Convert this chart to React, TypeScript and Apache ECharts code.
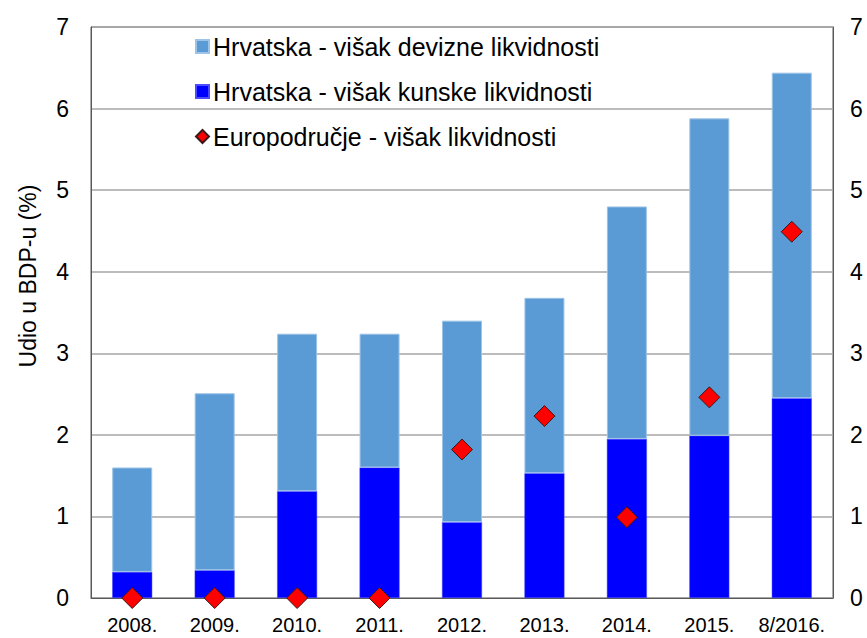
import React, { useEffect, useRef } from "react";
import * as echarts from "echarts";

const categories = ["2008.", "2009.", "2010.", "2011.", "2012.", "2013.", "2014.", "2015.", "8/2016."];
const kunskeLikvidnosti = [0.32, 0.34, 1.31, 1.6, 0.93, 1.53, 1.95, 1.99, 2.45];
const devizneLikvidnosti = [1.28, 2.17, 1.93, 1.64, 2.47, 2.15, 2.85, 3.89, 3.99];
const europodrucje = [0, 0, 0, 0, 1.82, 2.23, 0.99, 2.46, 4.49];
const yTicks = [0, 1, 2, 3, 4, 5, 6, 7];

const FONT = "'Liberation Sans', Arial, sans-serif";

export default function App() {
  const ref = useRef<HTMLDivElement>(null);
  useEffect(() => {
    if (!ref.current) return;
    const chart = echarts.init(ref.current, undefined, { renderer: "svg" });
    const yMin = yTicks[0];
    const yMax = yTicks[yTicks.length - 1];
    chart.setOption({
      animation: false,
      backgroundColor: "#ffffff",
      textStyle: { fontFamily: FONT },
      grid: {
        left: 91,
        right: 34,
        top: 27,
        bottom: 40,
        show: true,
        borderColor: "#595959",
        borderWidth: 1,
        backgroundColor: "transparent",
      },
      legend: {
        orient: "vertical",
        left: 195,
        top: 34,
        padding: 0,
        itemWidth: 13,
        itemHeight: 13,
        itemGap: 20,
        textStyle: { fontSize: 25, color: "#000", fontFamily: FONT, padding: [0, 0, 0, -1] },
        data: [
          { name: "Hrvatska - višak devizne likvidnosti", icon: "rect" },
          { name: "Hrvatska - višak kunske likvidnosti", icon: "rect" },
          { name: "Europodručje - višak likvidnosti", icon: "diamond" },
        ],
      },
      xAxis: {
        type: "category",
        data: categories,
        axisTick: { show: false },
        axisLine: { lineStyle: { color: "#595959", width: 1 } },
        axisLabel: { fontSize: 20, color: "#000", margin: 17, interval: 0, fontFamily: FONT },
      },
      yAxis: [
        {
          type: "value",
          min: yMin,
          max: yMax,
          interval: 1,
          position: "left",
          axisLine: { show: true, lineStyle: { color: "#595959" } },
          axisTick: { show: false },
          axisLabel: { fontSize: 23, color: "#000", margin: 22, fontFamily: FONT },
          splitLine: { show: true, lineStyle: { color: "#a6a6a6", width: 1.5 } },
        },
        {
          type: "value",
          min: yMin,
          max: yMax,
          interval: 1,
          position: "right",
          axisLine: { show: true, lineStyle: { color: "#595959" } },
          axisTick: { show: false },
          axisLabel: { fontSize: 23, color: "#000", margin: 17, fontFamily: FONT },
          splitLine: { show: false },
        },
      ],
      series: [
        {
          name: "Hrvatska - višak kunske likvidnosti",
          type: "bar",
          stack: "hr",
          barWidth: 40,
          data: kunskeLikvidnosti,
          itemStyle: { color: "#0000ff", borderColor: "#4d4dff", borderWidth: 0.5 },
          z: 2,
        },
        {
          name: "Hrvatska - višak devizne likvidnosti",
          type: "bar",
          stack: "hr",
          barWidth: 40,
          data: devizneLikvidnosti,
          itemStyle: { color: "#5b9bd5", borderColor: "#9dc3e6", borderWidth: 1 },
          z: 2,
        },
        {
          name: "Europodručje - višak likvidnosti",
          type: "scatter",
          data: europodrucje,
          symbol: "diamond",
          symbolSize: 21,
          clip: false,
          itemStyle: { color: "#ff0000", borderColor: "#3a1a1a", borderWidth: 1, opacity: 1 },
          z: 10,
        },
      ],
      graphic: [
        {
          type: "text",
          x: 28,
          y: 276,
          rotation: Math.PI / 2,
          style: {
            text: "Udio u BDP-u (%)",
            fontSize: 23,
            fontFamily: FONT,
            fill: "#000",
            align: "center",
            verticalAlign: "middle",
          },
        },
      ],
    });
    return () => chart.dispose();
  }, []);
  return (
    <div
      ref={ref}
      style={{ position: "fixed", left: 0, top: 0, width: 867, height: 638 }}
    />
  );
}
